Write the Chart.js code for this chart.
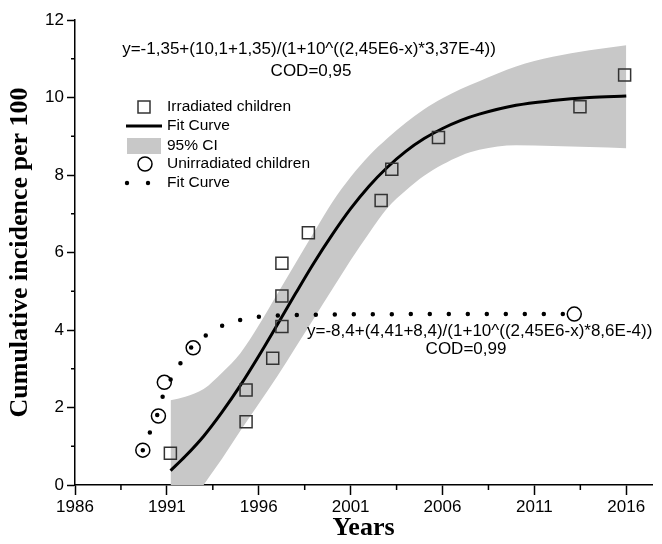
<!DOCTYPE html>
<html><head><meta charset="utf-8">
<script src="https://cdn.jsdelivr.net/npm/chart.js@4.4.1/dist/chart.umd.min.js"></script>
<style>html,body{margin:0;padding:0;background:#fff}#wrap{width:662px;height:544px;position:relative}</style>
</head><body><div id="wrap"><canvas id="c" width="662" height="544"></canvas></div>
<script>
// ---- data ----
const irradiatedYears  = [1991.19, 1995.31, 1995.31, 1996.76, 1997.26, 1997.26, 1997.26, 1998.70, 2002.66, 2003.24, 2005.78, 2013.48, 2015.91];
const irradiatedValues = [0.82, 1.63, 2.45, 3.27, 4.09, 4.88, 5.72, 6.51, 7.34, 8.15, 8.97, 9.76, 10.58];

const unirradiatedYears  = [1989.69, 1990.54, 1990.86, 1992.43, 2013.17];
const unirradiatedValues = [0.90, 1.78, 2.65, 3.54, 4.41];

const fitYears  = [1991.2, 1992, 1993, 1994, 1995, 1996, 1997, 1998, 1999, 2000, 2001, 2002, 2003, 2004, 2005, 2006, 2007, 2008, 2010, 2012, 2014, 2016.0];
const fitValues = [0.37, 0.74, 1.26, 1.88, 2.57, 3.33, 4.13, 4.94, 5.73, 6.46, 7.13, 7.71, 8.20, 8.61, 8.94, 9.20, 9.41, 9.57, 9.80, 9.92, 10.00, 10.04];
const ciUpper   = [2.19, 2.28, 2.48, 2.90, 3.40, 4.12, 4.92, 5.72, 6.52, 7.30, 7.95, 8.50, 8.95, 9.35, 9.70, 9.98, 10.22, 10.42, 10.80, 11.05, 11.22, 11.35];
const ciLower   = [-1.45, -0.80, 0.00, 0.68, 1.40, 2.10, 2.80, 3.55, 4.30, 5.05, 5.80, 6.50, 7.15, 7.60, 7.98, 8.27, 8.50, 8.65, 8.77, 8.75, 8.72, 8.69];

const unFitYears  = [1989.69, 1990.05, 1990.47, 1990.77, 1991.19, 1991.71, 1992.31, 1993.03, 1993.84, 1994.83, 1995.82, 1996.90, 2000, 2005, 2012.9];
const unFitValues = [0.90, 1.33, 1.80, 2.28, 2.71, 3.12, 3.54, 3.83, 4.07, 4.24, 4.33, 4.37, 4.40, 4.41, 4.41];

const xMajorTicks = [1986, 1991, 1996, 2001, 2006, 2011, 2016];
const xMinorTicks = [1988.5, 1993.5, 1998.5, 2003.5, 2008.5, 2013.5];
const yMajorTicks = [0, 2, 4, 6, 8, 10, 12];
const yMinorTicks = [1, 3, 5, 7, 9, 11];

const legendLabels = ['Irradiated children', 'Fit Curve', '95% CI', 'Unirradiated children', 'Fit Curve'];
const equation1 = ['y=-1,35+(10,1+1,35)/(1+10^((2,45E6-x)*3,37E-4))', 'COD=0,95'];
const equation2 = ['y=-8,4+(4,41+8,4)/(1+10^((2,45E6-x)*8,6E-4))', 'COD=0,99'];

const pts = (xs, ys) => xs.map((x, i) => ({x: x, y: ys[i]}));
const SANS = "'Liberation Sans', Arial, sans-serif";
const SERIF = "'Liberation Serif', 'Times New Roman', serif";

const decorPlugin = {
  id: 'decor',
  afterDraw(chart) {
    const ctx = chart.ctx, ca = chart.chartArea;
    const xs = chart.scales.x, ys = chart.scales.y;
    ctx.save();
    // minor ticks
    ctx.strokeStyle = '#000'; ctx.lineWidth = 1.5;
    xMinorTicks.forEach(v => { const p = xs.getPixelForValue(v); ctx.beginPath(); ctx.moveTo(p, ca.bottom); ctx.lineTo(p, ca.bottom + 5); ctx.stroke(); });
    yMinorTicks.forEach(v => { const p = ys.getPixelForValue(v); ctx.beginPath(); ctx.moveTo(ca.left, p); ctx.lineTo(ca.left - 4, p); ctx.stroke(); });

    // legend
    ctx.font = '15.5px ' + SANS; ctx.fillStyle = '#000'; ctx.textBaseline = 'middle'; ctx.textAlign = 'left';
    const tx = 167, rows = [107, 126, 146, 164, 183];
    ctx.strokeStyle = '#333'; ctx.lineWidth = 1.5;
    ctx.strokeRect(138, rows[0] - 6, 12, 12);
    ctx.strokeStyle = '#000'; ctx.lineWidth = 3; ctx.lineCap = 'butt';
    ctx.beginPath(); ctx.moveTo(126, rows[1]); ctx.lineTo(162, rows[1]); ctx.stroke();
    ctx.fillStyle = '#c8c8c8'; ctx.fillRect(127, rows[2] - 8, 34, 16);
    ctx.strokeStyle = '#000'; ctx.lineWidth = 1.5;
    ctx.beginPath(); ctx.arc(145, rows[3], 7, 0, Math.PI * 2); ctx.stroke();
    ctx.fillStyle = '#000';
    [127, 148].forEach(x => { ctx.beginPath(); ctx.arc(x, rows[4], 2.2, 0, Math.PI * 2); ctx.fill(); });
    legendLabels.forEach((t, i) => ctx.fillText(t, tx, rows[i]));

    // equations
    ctx.font = '17px ' + SANS; ctx.textAlign = 'center';
    ctx.fillText(equation1[0], 309, 49);
    ctx.fillText(equation1[1], 311, 71);
    ctx.textAlign = 'left';
    ctx.fillText(equation2[0], 307, 331);
    ctx.textAlign = 'center';
    ctx.fillText(equation2[1], 466, 349);
    ctx.restore();
  }
};

new Chart(document.getElementById('c'), {
  type: 'line',
  data: {
    datasets: [
      { label: 'Irradiated children', data: pts(irradiatedYears, irradiatedValues), showLine: false,
        pointStyle: 'rect', pointRadius: 8.5, pointBorderWidth: 1.5, pointBorderColor: '#333', pointBackgroundColor: 'rgba(0,0,0,0)', order: 0 },
      { label: 'Unirradiated children', data: pts(unirradiatedYears, unirradiatedValues), showLine: false,
        pointStyle: 'circle', pointRadius: 7, pointBorderWidth: 1.5, pointBorderColor: '#000', pointBackgroundColor: 'rgba(0,0,0,0)', order: 1 },
      { label: 'Fit Curve (unirradiated)', data: pts(unFitYears, unFitValues), borderColor: '#000', borderWidth: 4.5,
        borderDash: [0, 19], borderCapStyle: 'round', pointRadius: 0, cubicInterpolationMode: 'monotone', fill: false, order: 2 },
      { label: 'Fit Curve', data: pts(fitYears, fitValues), borderColor: '#000', borderWidth: 3,
        pointRadius: 0, cubicInterpolationMode: 'monotone', fill: false, order: 3 },
      { label: '95% CI', data: pts(fitYears, ciUpper), borderWidth: 0, borderColor: 'rgba(0,0,0,0)', backgroundColor: '#c8c8c8',
        pointRadius: 0, cubicInterpolationMode: 'monotone', fill: '+1', order: 5 },
      { label: '95% CI lower', data: pts(fitYears, ciLower), borderWidth: 0, borderColor: 'rgba(0,0,0,0)',
        pointRadius: 0, cubicInterpolationMode: 'monotone', fill: false, order: 4 }
    ]
  },
  options: {
    responsive: false, devicePixelRatio: 1, animation: false,
    layout: { padding: { top: 20, right: 6, left: 0, bottom: 0 } },
    plugins: { legend: { display: false }, tooltip: { enabled: false } },
    scales: {
      x: {
        type: 'linear', min: 1986, max: 2017.4,
        afterBuildTicks: s => { s.ticks = xMajorTicks.map(v => ({ value: v })); },
        afterFit: s => { s.height = 59; },
        ticks: { font: { family: SANS, size: 17 }, color: '#000', maxRotation: 0, autoSkip: false, padding: 2, callback: v => String(v) },
        grid: { display: true, drawOnChartArea: false, tickLength: 10, tickWidth: 1.5, tickColor: '#000' },
        border: { display: true, color: '#000', width: 1.5 },
        title: { display: true, text: 'Years', color: '#000', font: { family: SERIF, size: 26, weight: 'bold' }, padding: { top: 0, bottom: 0 } }
      },
      y: {
        type: 'linear', min: 0, max: 12,
        afterBuildTicks: s => { s.ticks = yMajorTicks.map(v => ({ value: v })); },
        afterFit: s => { s.width = 75; },
        ticks: { font: { family: SANS, size: 17 }, color: '#000', padding: 3, callback: v => String(v) },
        grid: { display: true, drawOnChartArea: false, tickLength: 8, tickWidth: 1.5, tickColor: '#000' },
        border: { display: true, color: '#000', width: 1.5 },
        title: { display: true, text: 'Cumulative incidence per 100', color: '#000', font: { family: SERIF, size: 26, weight: 'bold' }, padding: { top: 5, bottom: 0 } }
      }
    }
  },
  plugins: [decorPlugin]
});
</script>
</body></html>
